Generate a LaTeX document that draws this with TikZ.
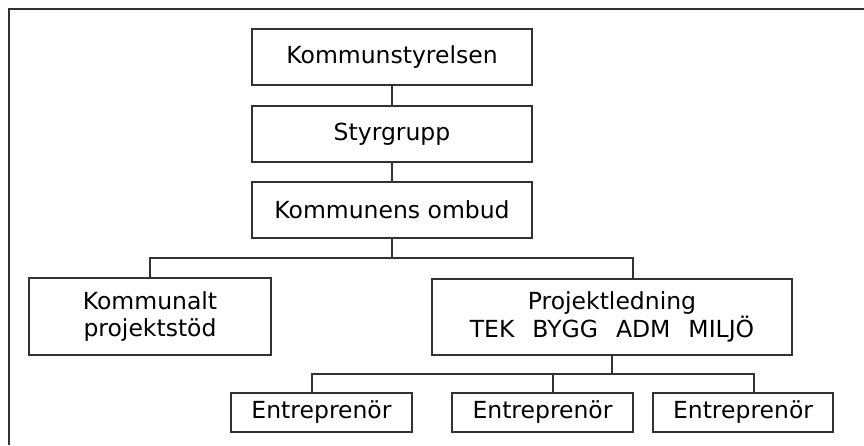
\documentclass[tikz,border=0pt]{standalone}
\usepackage{fontspec}
\setmainfont{DejaVu Sans}
\begin{document}
\begin{tikzpicture}[x=1pt,y=1pt,
  line/.style={draw=black!80, line width=1.1pt},
  box/.style={rectangle, draw=black!80, line width=1.1pt, inner sep=0pt, align=center,
    font=\fontsize{23.5pt}{27.5pt}\selectfont, text=black},
]
\useasboundingbox (0,0) rectangle (864,-445);
% open frame
\draw[line] (864,-9) -- (9,-9) -- (9,-445);

\node[box, minimum width=280, minimum height=56] (ks) at (392,-57) {Kommunstyrelsen};
\node[box, minimum width=280, minimum height=56] (sg) at (392,-134) {Styrgrupp};
\node[box, minimum width=280, minimum height=56] (om) at (392,-210) {Kommunens ombud};
\node[box, minimum width=242, minimum height=77] (kp) at (150,-316.5) {Kommunalt\\projektstöd};
\node[box, minimum width=360, minimum height=76] (pl) at (612,-317) {Projektledning\\TEK\hspace{18pt}BYGG\hspace{18pt}ADM\hspace{18pt}MILJÖ};
\node[box, minimum width=181, minimum height=39] (e1) at (321.5,-412.5) {Entreprenör};
\node[box, minimum width=181, minimum height=39] (e2) at (542.5,-412.5) {Entreprenör};
\node[box, minimum width=180, minimum height=39] (e3) at (743,-412.5) {Entreprenör};

\draw[line] (ks.south) -- (sg.north);
\draw[line] (sg.south) -- (om.north);

\coordinate (busL) at (150,-258);
\coordinate (busR) at (633,-258);
\draw[line] (kp.north) -- (busL) -- (busR) -- (busR |- pl.north);
\draw[line] (om.south) -- (om.south |- busL);

\coordinate (lbL) at (312,-374);
\coordinate (lbM) at (553,-374);
\coordinate (lbR) at (754,-374);
\draw[line] (lbL |- e1.north) -- (lbL) -- (lbR) -- (lbR |- e3.north);
\draw[line] (lbM) -- (lbM |- e2.north);
\draw[line] (pl.south) -- (pl.south |- lbL);
\end{tikzpicture}
\end{document}
